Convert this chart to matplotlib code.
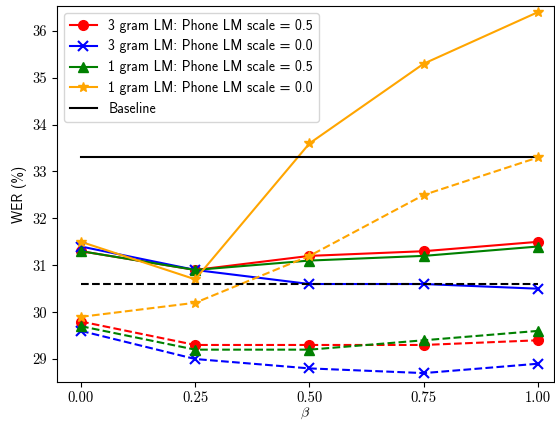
import matplotlib
matplotlib.use("Agg")
import matplotlib.pyplot as plt

plt.rcParams['mathtext.fontset'] = 'cm'
plt.rcParams['font.family'] = ['cmss10', 'DejaVu Sans']
plt.rcParams['axes.unicode_minus'] = False
plt.rcParams['font.size'] = 10

beta = [0.0, 0.25, 0.5, 0.75, 1.0]
xtick_labels = ['0.00', '0.25', '0.50', '0.75', '1.00']
yticks = [29, 30, 31, 32, 33, 34, 35, 36]

# solid lines
tri_05 = [31.3, 30.9, 31.2, 31.3, 31.5]
tri_00 = [31.4, 30.9, 30.6, 30.6, 30.5]
uni_05 = [31.3, 30.9, 31.1, 31.2, 31.4]
uni_00 = [31.5, 30.7, 33.6, 35.3, 36.4]
baseline = 33.3

# dashed lines
tri_05_d = [29.8, 29.3, 29.3, 29.3, 29.4]
tri_00_d = [29.6, 29.0, 28.8, 28.7, 28.9]
uni_05_d = [29.7, 29.2, 29.2, 29.4, 29.6]
uni_00_d = [29.9, 30.2, 31.2, 32.5, 33.3]
baseline_d = 30.6

labels = ['3 gram LM: Phone LM scale = 0.5',
          '3 gram LM: Phone LM scale = 0.0',
          '1 gram LM: Phone LM scale = 0.5',
          '1 gram LM: Phone LM scale = 0.0']

fig = plt.figure(figsize=(5.55, 4.21), dpi=100)
ax = fig.add_axes([57 / 555, 1 - 382 / 421, (554 - 57) / 555, (382 - 6) / 421])

ms = 7
lw = 1.5
ax.plot(beta, tri_05, '-o', color='red', ms=ms, lw=lw, label=labels[0])
ax.plot(beta, tri_00, '-x', color='blue', ms=ms, lw=lw, mew=1.5, label=labels[1])
ax.plot(beta, uni_05, '-^', color='green', ms=ms, lw=lw, label=labels[2])
ax.plot(beta, uni_00, '-*', color='orange', ms=ms, lw=lw, label=labels[3])
ax.plot([beta[0], beta[-1]], [baseline, baseline], '-', color='black', lw=lw, label='Baseline')

ax.plot(beta, tri_05_d, '--o', color='red', ms=ms, lw=lw)
ax.plot(beta, tri_00_d, '--x', color='blue', ms=ms, lw=lw, mew=1.5)
ax.plot(beta, uni_05_d, '--^', color='green', ms=ms, lw=lw)
ax.plot(beta, uni_00_d, '--*', color='orange', ms=ms, lw=lw)
ax.plot([beta[0], beta[-1]], [baseline_d, baseline_d], '--', color='black', lw=lw)

ax.set_xlim(-0.0525, 1.035)
ax.set_ylim(28.51, 36.53)
ax.set_xticks(beta)
ax.set_xticklabels(xtick_labels, family='cmr10', fontsize=10.5)
ax.set_yticks(yticks)
ax.set_yticklabels([str(v) for v in yticks], family='cmr10', fontsize=10.5)
ax.set_xlabel(r'$\beta$', labelpad=0)
ax.set_ylabel('WER (%)')
ax.legend(loc='upper left')

fig.savefig('out.png', dpi=100)
